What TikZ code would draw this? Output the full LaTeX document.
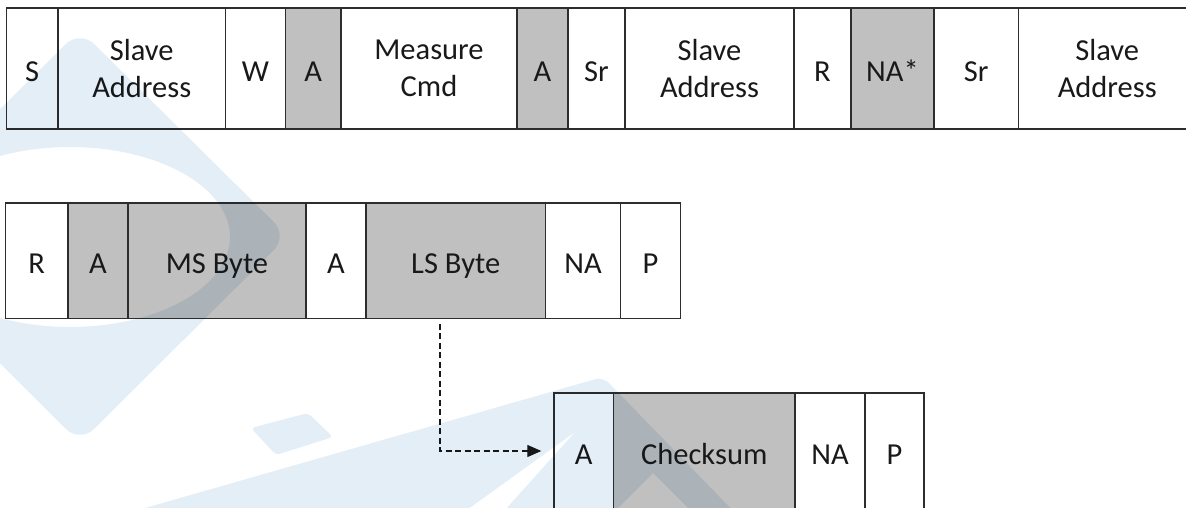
\documentclass[tikz,border=0pt]{standalone}
\usepackage{fontspec}
\setmainfont{Carlito}
\usetikzlibrary{arrows.meta}
\definecolor{cellgray}{RGB}{192,192,192}
\definecolor{linegray}{RGB}{45,45,45}
\definecolor{txt}{RGB}{25,25,25}
\definecolor{wmblue}{RGB}{228,238,247}
\begin{document}
\begin{tikzpicture}[x=1pt,y=-1pt,
  base/.style={draw=linegray, line width=1.4pt, inner sep=0pt, align=center, text=txt,
    font=\fontsize{30.5}{36.7}\selectfont},
  one/.style={base, text height=27pt, text depth=1.4pt},
  two/.style={base},
  grayfill/.style={fill=cellgray},
  rowa/.style={minimum height=121pt},
  rowb/.style={minimum height=115.5pt},
  rowc/.style={minimum height=118pt},
  dashline/.style={draw=txt, line width=1.2pt, dash pattern=on 6pt off 3.5pt,
    -{Triangle[length=14pt,width=12pt]}},
  wm/.style={fill=wmblue}
]
\useasboundingbox (0,0) rectangle (1186,508);
\clip (0,0) rectangle (1186,508);

% Row 1
\node[one, rowa, minimum width=51.5pt] (s1) at (32.25,68.5) {S};
\node[two, rowa, minimum width=167.5pt] (sa1) at (141.75,68.5) {Slave\\Address};
\node[one, rowa, minimum width=60pt] (w1) at (255.5,68.5) {W};
\node[one, rowa, grayfill, minimum width=55.5pt] (a1) at (313.25,68.5) {A};
\node[two, rowa, minimum width=176pt] (mc1) at (429,68.5) {Measure\\Cmd};
\node[one, rowa, grayfill, minimum width=51pt] (a2) at (542.5,68.5) {A};
\node[one, rowa, minimum width=57pt] (sr1) at (596.5,68.5) {Sr};
\node[two, rowa, minimum width=169pt] (sa2) at (709.5,68.5) {Slave\\Address};
\node[one, rowa, minimum width=57pt] (r1) at (822.5,68.5) {R};
\node[one, rowa, grayfill, minimum width=83pt] (na1) at (892.5,68.5) {NA*};
\node[one, rowa, minimum width=84.5pt] (sr2) at (976.25,68.5) {Sr};
\node[two, rowa, minimum width=177.5pt] (sa3) at (1107.25,68.5) {Slave\\Address};

% Row 2
\node[one, rowb, minimum width=62.5pt] (r2) at (36.75,260.75) {R};
\node[one, rowb, grayfill, minimum width=60pt] (a3b) at (98,260.75) {A};
\node[one, rowb, grayfill, minimum width=178pt] (ms) at (217,260.75) {MS Byte};
\node[one, rowb, minimum width=60pt] (a4) at (336,260.75) {A};
\node[one, rowb, grayfill, minimum width=179.5pt] (ls) at (455.75,260.75) {LS Byte};
\node[one, rowb, minimum width=75pt] (na2) at (583,260.75) {NA};
\node[one, rowb, minimum width=60pt] (p2) at (650.5,260.75) {P};

% Row 3
\node[one, rowc, minimum width=59.5pt] (a5) at (583.75,452) {A};
\node[one, rowc, grayfill, minimum width=181.5pt] (cs) at (704.25,452) {Checksum};
\node[one, rowc, minimum width=70pt] (na3) at (830,452) {NA};
\node[one, rowc, minimum width=59pt] (p3) at (894.5,452) {P};

% connector
\draw[dashline] ([xshift=-15.75pt,yshift=-4.5pt]ls.south) |- ([xshift=-12pt,yshift=1pt]a5.west);

% watermark
\begin{scope}[blend mode=multiply]
  \fill[wm, even odd rule]
    [rounded corners=20pt] (80,30) -- (288,236) -- (80,443) -- (-128,236) -- cycle
    [sharp corners] (70,237) ellipse [x radius=160pt, y radius=90pt];
  \fill[wm, rounded corners=4pt] (251,428) -- (308,413) -- (333,437) -- (276,455) -- cycle;
  \fill[wm, even odd rule]
    [rounded corners=8pt] (103,520) -- (603,377) -- (742,520) -- cycle
    [sharp corners] (575,432) -- (453,520) -- (496,520) -- cycle
    (653,473) -- (606,520) -- (700,520) -- cycle;
\end{scope}
\end{tikzpicture}
\end{document}
